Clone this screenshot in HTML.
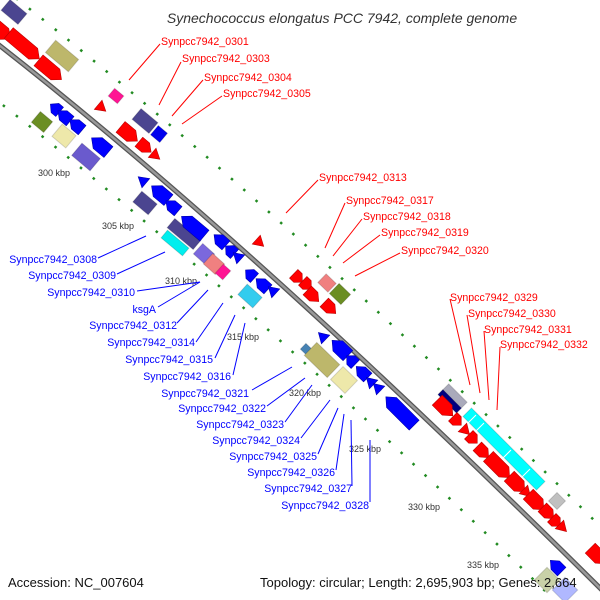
<!DOCTYPE html>
<html><head><meta charset="utf-8"><style>
html,body{margin:0;padding:0;background:#fff;width:600px;height:600px;overflow:hidden}
svg{display:block}
text{font-family:"Liberation Sans","DejaVu Sans",sans-serif}
</style></head><body>
<svg width="600" height="600" viewBox="0 0 600 600" xmlns="http://www.w3.org/2000/svg">
<defs>
<polygon id="f40" points="-20,-7 12,-7 20,0 12,7 -20,7"/>
<polygon id="f30" points="-15,-7 7,-7 15,0 7,7 -15,7"/>
<polygon id="f22" points="-11,-7 3,-7 11,0 3,7 -11,7"/>
<polygon id="f16" points="-8,-6 1,-6 8,0 1,6 -8,6"/>
<polygon id="f12" points="-6,-6 0,-6 6,0 0,6 -6,6"/>
<polygon id="tri" points="-5,-6 5,0 -5,6"/>
</defs>

<g fill="none" stroke="#228b22" stroke-width="2.5" stroke-dasharray="2.5 14">
<path d="M -10 -22 Q 250 178 610 536"/>
<path d="M -10 95 Q 250 297 610 655"/>
</g>
<path d="M -10 38 Q 250 240 610 598" fill="none" stroke="#555" stroke-width="5"/>
<path d="M -10 38 Q 250 240 610 598" fill="none" stroke="#999" stroke-width="2.5"/>

<g font-size="9" fill="#333">
<text x="38" y="176">300 kbp</text>
<text x="102" y="229">305 kbp</text>
<text x="165" y="284">310 kbp</text>
<text x="227" y="340">315 kbp</text>
<text x="289" y="396">320 kbp</text>
<text x="349" y="452">325 kbp</text>
<text x="408" y="510">330 kbp</text>
<text x="467" y="568">335 kbp</text>
</g>

<g stroke="rgba(0,0,0,0.15)" stroke-width="1">
<rect x="-11" y="-7" width="22" height="14" fill="#4b4590" transform="translate(14,12) rotate(40)"/>
<rect x="-15" y="-8" width="30" height="16" fill="#bdb76b" transform="translate(62,56) rotate(40)"/>
<rect x="-6" y="-5" width="12" height="10" fill="#ff1493" transform="translate(116,96) rotate(40)"/>
<rect x="-11" y="-7" width="22" height="14" fill="#4b4590" transform="translate(145,121) rotate(40)"/>
<rect x="-6" y="-6" width="12" height="12" fill="#0000ee" transform="translate(159,134) rotate(40)"/>
<rect x="-8" y="-7" width="16" height="14" fill="#6b8e23" transform="translate(42,122) rotate(40)"/>
<rect x="-9" y="-8" width="18" height="16" fill="#eee8aa" transform="translate(64,136) rotate(40)"/>
<rect x="-12" y="-8" width="24" height="16" fill="#6a5acd" transform="translate(86,157) rotate(40)"/>
<rect x="-10" y="-7" width="20" height="14" fill="#4b4590" transform="translate(145,203) rotate(40)"/>
<rect x="-17" y="-6" width="34" height="12" fill="#4b4590" transform="translate(184,234) rotate(40)"/>
<rect x="-14" y="-5" width="28" height="10" fill="#00eeee" transform="translate(175,243) rotate(40)"/>
<rect x="-8" y="-7" width="16" height="14" fill="#7b68dd" transform="translate(204,254) rotate(42)"/>
<rect x="-8" y="-7" width="16" height="14" fill="#f08080" transform="translate(214,264) rotate(42)"/>
<rect x="-5" y="-6" width="10" height="12" fill="#ff1493" transform="translate(223,272) rotate(42)"/>
<rect x="-10" y="-7" width="20" height="14" fill="#33ccee" transform="translate(250,296) rotate(42)"/>
<rect x="-7" y="-6" width="14" height="12" fill="#f08080" transform="translate(327,283) rotate(44)"/>
<rect x="-8" y="-7" width="16" height="14" fill="#6b8e23" transform="translate(340,294) rotate(44)"/>
<rect x="-4" y="-4" width="8" height="8" fill="#4682b4" transform="translate(306,349) rotate(44)"/>
<rect x="-16" y="-9" width="32" height="18" fill="#bdb76b" transform="translate(322,360) rotate(44)"/>
<rect x="-10" y="-9" width="20" height="18" fill="#eee8aa" transform="translate(344,380) rotate(44)"/>
<rect x="-13" y="-7" width="26" height="14" fill="#aab" transform="translate(453,398) rotate(45)"/>
<rect x="-13" y="-3" width="26" height="7" fill="#000080" transform="translate(450,401) rotate(45)"/>
<rect x="-52" y="-6" width="104" height="12" fill="#00ffff" transform="translate(504,449) rotate(45)"/>
<rect x="-6" y="-6" width="12" height="12" fill="#c0c0c0" transform="translate(557,501) rotate(45)"/>
<rect x="-9" y="-9" width="18" height="18" fill="#c9d1a8" transform="translate(547,580) rotate(45)"/>
<rect x="-9" y="-9" width="18" height="18" fill="#b0b8ff" transform="translate(565,590) rotate(45)"/>
</g>
<g stroke="#fff" stroke-width="1">
<line x1="476" y1="415" x2="468" y2="423"/><line x1="484" y1="423" x2="476" y2="431"/>
<line x1="511" y1="450" x2="503" y2="458"/><line x1="530" y1="469" x2="522" y2="477"/>
</g>

<g fill="#f00" stroke="#b00" stroke-width="0.6">
<use href="#f22" transform="translate(2,32) rotate(40)"/>
<use href="#f40" transform="translate(24,46) rotate(40)"/>
<use href="#f30" transform="translate(50,70) rotate(40)"/>
<use href="#tri" transform="translate(102,108) rotate(40)"/>
<use href="#f22" transform="translate(129,134) rotate(40)"/>
<use href="#f16" transform="translate(145,147) rotate(40)"/>
<use href="#tri" transform="translate(156,156) rotate(40)"/>
<use href="#tri" transform="translate(260,243) rotate(42)"/>
<use href="#f12" transform="translate(298,278) rotate(44)"/>
<use href="#f12" transform="translate(307,285) rotate(44)"/>
<use href="#f16" transform="translate(313,296) rotate(44)"/>
<use href="#f16" transform="translate(330,308) rotate(44)"/>
<use href="#f22" transform="translate(445,408) rotate(45)"/>
<use href="#f12" transform="translate(457,421) rotate(45)"/>
<use href="#tri" transform="translate(466,431) rotate(45)"/>
<use href="#f12" transform="translate(473,439) rotate(45)"/>
<use href="#f16" transform="translate(483,452) rotate(45)"/>
<use href="#f30" transform="translate(499,467) rotate(45)"/>
<use href="#f22" transform="translate(517,484) rotate(45)"/>
<use href="#tri" transform="translate(527,493) rotate(45)"/>
<use href="#f22" transform="translate(536,502) rotate(45)"/>
<use href="#f16" transform="translate(548,513) rotate(45)"/>
<use href="#f12" transform="translate(556,522) rotate(45)"/>
<use href="#tri" transform="translate(563,528) rotate(45)"/>
<use href="#f22" transform="translate(598,556) rotate(45)"/>
</g>
<g fill="#00f" stroke="#00a" stroke-width="0.6">
<use href="#f12" transform="translate(55,108) rotate(220)"/>
<use href="#f16" transform="translate(64,116) rotate(220)"/>
<use href="#f16" transform="translate(76,125) rotate(220)"/>
<use href="#f22" transform="translate(100,145) rotate(220)"/>
<use href="#tri" transform="translate(142,180) rotate(220)"/>
<use href="#f22" transform="translate(160,193) rotate(220)"/>
<use href="#f16" transform="translate(172,206) rotate(220)"/>
<use href="#f30" transform="translate(193,226) rotate(220)"/>
<use href="#f16" transform="translate(220,240) rotate(222)"/>
<use href="#f12" transform="translate(230,250) rotate(222)"/>
<use href="#tri" transform="translate(237,256) rotate(222)"/>
<use href="#f12" transform="translate(250,274) rotate(222)"/>
<use href="#f16" transform="translate(262,284) rotate(222)"/>
<use href="#tri" transform="translate(272,290) rotate(222)"/>
<use href="#tri" transform="translate(322,336) rotate(224)"/>
<use href="#f22" transform="translate(340,348) rotate(224)"/>
<use href="#f12" transform="translate(351,360) rotate(224)"/>
<use href="#f16" transform="translate(362,372) rotate(224)"/>
<use href="#tri" transform="translate(370,381) rotate(224)"/>
<use href="#tri" transform="translate(377,387) rotate(224)"/>
<use href="#f40" transform="translate(400,411) rotate(225)"/>
<use href="#f16" transform="translate(556,566) rotate(225)"/>
</g>

<g stroke="#f00" stroke-width="1">
<line x1="160" y1="44" x2="129" y2="80"/>
<line x1="181" y1="62" x2="159" y2="105"/>
<line x1="203" y1="80" x2="172" y2="116"/>
<line x1="222" y1="96" x2="182" y2="124"/>
<line x1="318" y1="180" x2="286" y2="213"/>
<line x1="345" y1="203" x2="325" y2="248"/>
<line x1="362" y1="219" x2="333" y2="256"/>
<line x1="380" y1="235" x2="343" y2="263"/>
<line x1="400" y1="253" x2="355" y2="276"/>
<line x1="450" y1="299" x2="470" y2="385"/>
<line x1="467" y1="315" x2="480" y2="393"/>
<line x1="484" y1="331" x2="489" y2="400"/>
<line x1="500" y1="347" x2="497" y2="410"/>
</g>
<g font-size="10.6" fill="#f00">
<text x="161" y="45">Synpcc7942_0301</text>
<text x="182" y="62">Synpcc7942_0303</text>
<text x="204" y="81">Synpcc7942_0304</text>
<text x="223" y="97">Synpcc7942_0305</text>
<text x="319" y="181">Synpcc7942_0313</text>
<text x="346" y="204">Synpcc7942_0317</text>
<text x="363" y="220">Synpcc7942_0318</text>
<text x="381" y="236">Synpcc7942_0319</text>
<text x="401" y="254">Synpcc7942_0320</text>
<text x="450" y="301">Synpcc7942_0329</text>
<text x="468" y="317">Synpcc7942_0330</text>
<text x="484" y="333">Synpcc7942_0331</text>
<text x="500" y="348">Synpcc7942_0332</text>
</g>

<g stroke="#00f" stroke-width="1">
<line x1="98" y1="258" x2="146" y2="236"/>
<line x1="117" y1="274" x2="165" y2="252"/>
<line x1="137" y1="291" x2="200" y2="282"/>
<line x1="158" y1="307" x2="200" y2="282"/>
<line x1="177" y1="323" x2="208" y2="290"/>
<line x1="196" y1="342" x2="223" y2="303"/>
<line x1="215" y1="358" x2="235" y2="315"/>
<line x1="233" y1="375" x2="245" y2="323"/>
<line x1="252" y1="390" x2="292" y2="367"/>
<line x1="267" y1="406" x2="305" y2="378"/>
<line x1="285" y1="422" x2="312" y2="385"/>
<line x1="301" y1="438" x2="330" y2="400"/>
<line x1="318" y1="454" x2="338" y2="408"/>
<line x1="336" y1="470" x2="344" y2="414"/>
<line x1="352" y1="486" x2="351" y2="420"/>
<line x1="370" y1="502" x2="370" y2="440"/>
</g>
<g font-size="10.6" fill="#00f" text-anchor="end">
<text x="97" y="263">Synpcc7942_0308</text>
<text x="116" y="279">Synpcc7942_0309</text>
<text x="135" y="296">Synpcc7942_0310</text>
<text x="156" y="313">ksgA</text>
<text x="177" y="329">Synpcc7942_0312</text>
<text x="195" y="346">Synpcc7942_0314</text>
<text x="213" y="363">Synpcc7942_0315</text>
<text x="231" y="380">Synpcc7942_0316</text>
<text x="249" y="397">Synpcc7942_0321</text>
<text x="266" y="412">Synpcc7942_0322</text>
<text x="284" y="428">Synpcc7942_0323</text>
<text x="300" y="444">Synpcc7942_0324</text>
<text x="317" y="460">Synpcc7942_0325</text>
<text x="335" y="476">Synpcc7942_0326</text>
<text x="352" y="492">Synpcc7942_0327</text>
<text x="369" y="509">Synpcc7942_0328</text>
</g>

<text x="342" y="23" font-size="14" font-style="italic" fill="#333" text-anchor="middle">Synechococcus elongatus PCC 7942, complete genome</text>
<text x="8" y="587" font-size="13" fill="#111">Accession: NC_007604</text>
<text x="260" y="587" font-size="13" fill="#111">Topology: circular; Length: 2,695,903 bp; Genes: 2,664</text>
</svg>
</body></html>
